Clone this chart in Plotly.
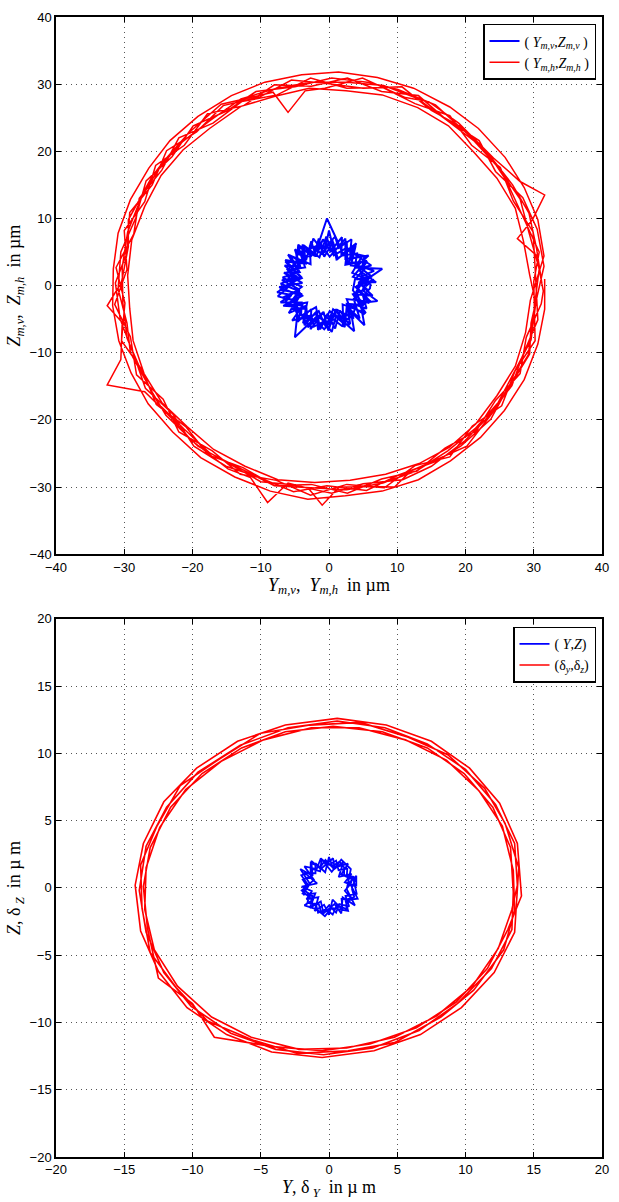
import plotly.graph_objects as go
from plotly.subplots import make_subplots

# ---------------- data ----------------
# Top panel: (Y_m,v , Z_m,v) blue orbit in µm
top_blue_y = [6.1, 3.5, 5.5, 2.4, 2.7, 0.7, -0.4, -1.4, -3.7, -3.4, -6.4, -4.1, -7.1, -4.4, -6.0, -3.2, -3.8, -1.5, -0.4, 0.6, 3.1, 2.6, 5.1, 3.5,
              3.8, 5.4, 3.2, 3.9, 1.1, 0.5, -1.0, -2.8, -2.7, -6.0, -4.4, -6.8, -4.0, -7.1, -4.0, -4.1, -1.9, -1.3, 0.1, 2.1, 2.0, 5.4, 3.5, 5.5,
              4.6, 7.8, 3.8, 4.1, 2.1, 1.3, -0.3, -1.8, -2.7, -4.8, -4.5, -6.3, -5.4, -7.5, -4.8, -4.6, -5.0, -1.7, -0.4, 0.8, 3.7, 3.1, 4.7, 4.0,
              5.3, 3.4, 4.8, 2.4, 2.4, 0.1, -1.2, -2.2, -4.5, -3.5, -5.6, -4.9, -7.2, -4.1, -5.4, -3.3, -3.1, -1.0, 0.3, 1.2, 3.6, 2.6, 6.1, 4.1,
              5.0, 6.6, 4.2, 5.8, 3.1, 4.0, 1.8, 1.9, 0.2, -0.9, -1.9, -2.6, -3.3, -5.0, -4.2, -6.5, -4.6, -6.9, -4.3, -6.8, -4.7, -5.9, -3.4,
              -3.6, -1.9, -1.6, -0.2, 0.9, 1.6, 3.0, 3.0, 5.2, 3.7, 6.4, 4.3,
              6.9, 4.5, 5.6, 2.9, 3.5, 1.3, 0.6, -0.7, -1.5, -2.2, -3.9, -3.6, -5.7, -4.3, -6.6, -3.9, -7.3, -4.5, -6.3, -3.9, -4.6, -2.6,
              -2.7, -0.8, -0.1, 1.0, 2.3, 2.6, 4.5, 3.6, 5.9, 3.9, 6.6,
              5.5, 4.4, 6.2, 3.6, 2.7, 2.6, 0.7, 0.0, -0.7, -2.3, -2.9, -4.5, -4.8, -6.1, -4.9, -7.6, -5.5, -6.4, -4.2, -5.4, -2.6, -2.2,
              -0.7, 0.4, 1.0, 2.9, 2.9, 5.2, 4.6, 7.1, 4.9, 6.0,
              4.0, 6.3, 4.8, 5.2, 3.1, 3.3, 1.4, 0.9, -0.5, -1.6, -3.0, -4.1, -3.8, -6.4, -4.0, -5.6, -3.9, -6.7, -5.1, -4.4, -2.9, -1.8,
              -0.7, 0.6, 2.0, 2.2, 3.5, 4.0, 5.5, 5.0, 6.0, 6.1]
top_blue_z = [0.3, 1.3, 3.7, 3.1, 5.7, 4.5, 7.3, 4.2, 6.0, 3.3, 3.8, 1.3, 0.3, -0.8, -3.0, -2.5, -5.6, -3.8, -6.3, -3.5, -5.7, -2.7, -2.9, -0.7,
              0.9, 2.7, 3.0, 5.9, 3.9, 6.8, 4.7, 6.0, 3.2, 4.6, 2.0, 1.2, -0.2, -2.5, -2.5, -4.5, -3.2, -6.5, -3.8, -5.6, -2.8, -4.1, -1.3, -0.5,
              0.3, 2.5, 2.7, 4.8, 4.5, 6.5, 10.0, 5.4, 4.3, 4.7, 2.6, 1.9, 0.3, -1.6, -2.3, -3.9, -7.7, -4.5, -5.6, -4.2, -6.8, -3.2, -2.7, -0.9,
              1.1, 1.9, 4.3, 4.0, 7.0, 4.3, 6.2, 4.7, 5.7, 2.7, 2.4, 0.9, -0.6, -1.2, -3.5, -3.4, -6.2, -4.1, -5.3, -3.6, -4.9, -2.0, -2.4, -0.3,
              1.5, 2.2, 3.0, 4.5, 4.0, 6.3, 4.6, 7.2, 5.1, 6.9, 4.3, 6.6, 4.0, 5.4, 2.8, 3.0, 1.2, 0.8, -0.6, -1.8, -2.2, -4.1, -3.0,
              -5.9, -3.9, -6.6, -4.2, -6.4, -3.7, -5.9, -2.9, -4.3, -1.3, -1.5, 0.5,
              0.5, 2.2, 3.6, 3.4, 5.9, 4.0, 6.5, 4.3, 7.0, 4.5, 6.1, 3.2, 4.5, 2.0, 1.9, 0.4, -0.2, -1.4, -3.0, -2.9, -5.4, -3.5,
              -6.5, -3.9, -6.7, -3.5, -6.2, -3.1, -4.9, -1.9, -2.6, -0.2, 0.9,
              0.0, 2.6, 3.0, 4.8, 3.1, 6.6, 5.2, 8.2, 4.9, 7.0, 4.7, 6.1, 3.4, 2.4, 0.8, -1.0, -1.4, -2.4, -3.5, -5.2, -4.4, -6.1,
              -5.3, -6.9, -4.6, -5.0, -3.6, -5.9, -2.6, -2.3, -0.7, 1.4,
              0.9, 1.3, 2.5, 4.4, 4.9, 6.9, 5.6, 7.3, 5.8, 6.0, 5.4, 5.1, 3.3, 3.6, 1.1, 0.4, -1.5, -3.0, -3.1, -5.0, -4.7, -5.4,
              -6.5, -5.0, -6.1, -4.3, -4.3, -2.9, -3.4, -1.6, -0.4, 0.3]

# Top panel: (Y_m,h , Z_m,h) red orbit in µm
top_red_y = [31.2, 30.4, 29.3, 26.9, 23.0, 19.9, 15.6, 10.1, 5.6, 0.4, -5.0, -10.7, -15.0, -19.9, -23.0, -26.8, -28.3, -30.5,
             -30.9, -29.6, -29.1, -26.0, -23.9, -19.2, -15.6, -10.0, -5.7, 0.4, 5.0, 10.8, 15.0, 19.9, 22.9, 26.8, 28.3, 30.6,
             30.2, 29.9, 27.0, 25.1, 20.9, 17.7, 12.6, 7.9, 2.6, -2.7, -7.6, -12.8, -17.0, -22.0, -24.5, -27.8, -28.6, -31.2,
             -29.9, -30.4, -27.3, -25.3, -21.0, -17.7, -12.6, -8.0, -2.6, 2.7, 7.7, 12.9, 17.0, 21.6, 24.4, 28.0, 28.9, 31.1,
             31.4, 30.4, 27.6, 29.8, 31.6, 28.0, 24.1, 19.0, 14.6, 11.2, 4.9, -0.6, -3.5, -6.0, -8.2, -15.8, -20.5, -24.0, -25.9, -29.4,
             -29.4, -30.4, -32.5, -30.3, -30.5, -32.5, -27.0, -22.8, -20.2, -14.8, -11.5, -9.0, -6.0, -3.0, -1.0, 1.5, 5.8, 9.6, 12.0,
             20.2, 23.9, 25.9, 29.4, 29.6,
             31.5, 30.5, 28.4, 24.4, 22.0, 17.1, 13.1, 7.7, 2.7, -2.6, -8.0, -12.5, -17.8, -21.2, -25.4, -27.0, -30.0, -29.6,
             -31.4, -29.1, -28.2, -24.3, -22.0, -17.1, -13.0, -7.7, -2.7, 2.6, 8.1, 12.6, 17.7, 21.0, 25.3, 27.3, 30.2, 30.0,
             30.0, 30.8, 28.1, 26.0, 23.8, 19.2, 15.0, 10.7, 5.0, -0.3, -5.5, -10.1, -15.5, -19.4, -23.8, -25.9, -29.2, -29.6,
             -31.3, -30.6, -28.4, -26.9, -22.9, -19.8, -15.1, -10.6, -5.2, -0.3, 5.5, 10.2, 15.6, 19.3, 23.7, 26.1, 29.2, 29.8,
             30.8, 29.3, 28.0, 24.8, 21.3, 17.3, 12.9, 8.0, 2.6, -2.6, -7.9, -12.9, -17.4, -21.5, -24.9, -27.6, -29.5, -30.3,
             -30.2, -29.6, -27.4, -25.0, -21.2, -17.5, -12.8, -8.0, -2.7, 2.6, 7.9, 12.8, 17.4, 21.4, 24.8, 27.3, 29.6, 30.3,
             29.4, 28.5, 27.3, 24.6, 21.3, 17.5, 13.0, 7.8, 2.5, -2.9, -7.9, -12.9, -17.5, -21.4, -24.6, -27.0, -28.9, -29.5,
             -29.2, -28.7, -27.1, -24.5, -20.8, -16.9, -12.3, -7.5, -2.1, 3.1, 8.3, 13.2, 17.6, 21.5, 24.6, 27.3, 28.8, 29.5,
             31.5, 30.6, 28.6, 25.8, 21.9, 17.7, 12.4, 7.1, 1.4, -4.0, -9.4, -14.3, -19.2, -23.3, -26.4, -29.1, -30.9, -31.6,
             -31.7, -30.8, -29.0, -26.5, -22.9, -18.8, -13.8, -8.6, -3.1, 2.4, 7.8, 13.1, 17.8, 22.2, 25.7, 28.6, 30.6, 31.6, 31.6]
top_red_z = [0.3, 5.6, 10.8, 15.0, 20.1, 23.0, 26.9, 29.2, 30.3, 30.9, 29.6, 28.9, 26.0, 23.8, 19.2, 15.6, 10.1, 5.0,
             -0.5, -5.6, -10.0, -15.7, -19.3, -23.9, -26.0, -29.2, -29.6, -30.9, -29.5, -28.9, -26.9, -23.1, -20.0, -14.9, -10.6, -5.1,
             2.6, 8.0, 12.6, 17.6, 20.9, 25.3, 27.1, 29.5, 29.4, 30.9, 28.4, 27.4, 24.2, 22.0, 17.2, 13.0, 7.7, 2.7,
             -2.6, -8.2, -12.7, -17.7, -21.0, -25.2, -27.1, -29.8, -29.6, -30.9, -28.8, -27.6, -24.2, -21.6, -17.1, -13.1, -7.7, -2.7,
             -0.8, 4.5, 7.0, 9.8, 13.5, 15.5, 19.0, 24.2, 27.4, 28.0, 30.9, 29.4, 29.0, 25.8, 28.8, 27.0, 22.8, 18.8, 16.3, 9.8,
             5.8, 0.5, -3.0, -5.5, -11.0, -14.8, -15.8, -20.0, -23.0, -27.3, -28.6, -32.3, -29.4, -30.2, -32.7, -30.0, -29.9, -30.0, -27.6,
             -23.9, -19.0, -16.0, -10.2, -5.6,
             2.9, 8.4, 13.1, 17.0, 21.6, 24.8, 28.3, 28.9, 30.9, 29.7, 29.9, 26.8, 25.6, 20.9, 17.9, 12.5, 8.2, 2.4,
             -2.8, -7.6, -13.3, -16.9, -21.8, -24.6, -28.1, -29.0, -31.2, -29.6, -30.1, -26.8, -25.5, -20.9, -17.9, -12.6, -8.2, -2.5,
             0.6, 5.0, 10.9, 15.6, 19.0, 23.7, 26.1, 29.6, 29.4, 30.1, 30.6, 28.1, 26.8, 22.9, 20.1, 15.0, 10.9, 4.9,
             0.4, -5.0, -10.9, -15.3, -19.1, -23.9, -26.9, -28.4, -30.7, -29.8, -30.5, -28.2, -26.2, -23.9, -19.9, -15.4, -10.3, -5.3,
             2.5, 7.9, 12.9, 17.6, 21.5, 24.6, 27.9, 29.8, 30.3, 30.3, 29.3, 27.8, 24.6, 21.4, 17.5, 12.9, 8.0, 2.7,
             -2.6, -7.8, -13.0, -17.6, -21.4, -24.9, -27.3, -29.8, -30.1, -30.4, -29.4, -27.6, -24.6, -21.3, -17.4, -12.6, -8.1, -2.6,
             1.6, 6.6, 11.5, 16.0, 19.8, 23.8, 26.5, 28.4, 29.0, 29.4, 28.2, 26.7, 23.4, 20.2, 16.4, 11.8, 6.8, 1.5,
             -3.4, -8.2, -13.1, -17.4, -21.0, -24.4, -26.9, -28.9, -29.3, -29.0, -28.1, -26.5, -24.1, -20.6, -16.4, -12.0, -7.0, -2.2,
             4.4, 9.8, 14.6, 19.1, 23.4, 26.6, 29.4, 31.0, 31.8, 31.4, 30.3, 28.3, 25.2, 21.6, 17.5, 12.8, 7.8, 2.5,
             -3.0, -8.2, -13.0, -17.6, -21.8, -25.6, -28.5, -30.6, -31.8, -31.3, -30.6, -28.9, -26.1, -22.6, -18.6, -14.0, -8.7, -3.5, 1.0]

# Bottom panel: (Y,Z) blue and (delta_y, delta_z) red in µm
bot_blue_y = [2.0, 1.16, 1.65, 0.71, 1.05, 0.34, 0.0, -0.28, -1.0, -0.99, -1.82, -0.87, -2.0, -1.26, -1.65, -0.78, -1.05, -0.36, 0.0, 0.26, 1.0, 0.92, 1.73, 1.16,
              1.59, 1.76, 1.11, 1.10, 0.77, 0.20, -0.26, -0.61, -1.34, -1.35, -2.03, -1.59, -1.88, -1.39, -1.59, -0.97, -0.80, -0.22, 0.27, 0.57, 1.28, 1.27, 1.85, 1.69,
              1.7, 1.93, 1.3, 1.34, 0.7, 0.52, 0.0, -0.54, -0.65, -1.34, -1.3, -1.93, -1.6, -1.93, -1.21, -1.34, -0.75, -0.54, 0.0, 0.52, 0.75, 1.48, 1.21, 2.03,
              1.8, 0.9, 1.4, 0.4, 0.3, -0.6, -1.3, -1.2, -2.1, -1.4, -1.9, -1.0, -1.4, -0.6, -0.4, 0.4, 0.9, 1.0, 1.9, 1.3,
              1.6, 0.9, 0.2, -0.6, -0.9, -1.8, -1.1, -2.0, -1.2, -1.8, -0.9, -0.3, 0.2, 1.4, 1.2, 2.1, 1.5, 2.0, 2.0]
bot_blue_z = [0.1, 0.41, 1.05, 0.81, 1.92, 1.36, 2.3, 1.16, 1.83, 1.09, 1.15, 0.33, 0.1, -0.24, -0.85, -0.68, -1.72, -1.25, -2.0, -0.87, -1.63, -0.82, -0.9, -0.21,
              0.31, 0.83, 0.95, 1.53, 1.95, 1.59, 2.08, 1.58, 1.84, 1.14, 0.94, 0.31, -0.15, -0.47, -1.12, -1.17, -1.84, -1.59, -1.98, -1.29, -1.57, -0.87, -0.67, -0.12,
              0.1, 0.62, 0.85, 1.44, 1.31, 2.03, 1.7, 2.13, 1.23, 1.44, 0.85, 0.62, 0.1, -0.42, -0.6, -1.24, -1.2, -1.93, -1.3, -1.83, -1.2, -1.38, -0.6, -0.44,
              0.6, 1.0, 1.8, 1.5, 2.2, 1.4, 2.0, 0.9, 1.4, 0.3, -0.5, -0.4, -1.5, -1.0, -1.9, -1.2, -1.9, -0.7, -1.3, -0.1,
              1.4, 2.1, 1.2, 2.2, 1.4, 1.6, 0.6, -0.2, -0.9, -1.3, -1.6, -2.1, -1.5, -1.7, -0.9, -0.8, 0.4, 0.9, 0.1]

bot_red_y = [13.8, 13.6, 12.2, 10.0, 7.2, 4.1, 0.6, -3.0, -6.5, -9.6, -11.9, -13.4, -13.9, -13.4, -12.1, -10.1, -7.2, -3.9, -0.4, 3.2, 6.6, 9.4, 11.9, 13.4,
             13.5, 13.3, 12.0, 9.9, 7.2, 3.9, 0.3, -3.2, -6.4, -9.3, -11.6, -13.1, -13.6, -13.3, -12.5, -10.0, -8.4, -4.1, -0.5, 3.0, 6.4, 9.3, 11.6, 13.1,
             14.1, 13.8, 12.5, 10.3, 7.5, 4.2, 0.6, -3.2, -6.7, -9.7, -12.1, -13.6, -14.2, -13.8, -12.5, -10.4, -7.5, -4.2, -0.5, 3.3, 6.7, 9.7, 12.1, 13.6,
             13.9, 12.9, 11.4, 8.7, 5.8, 2.3, -1.4, -5.0, -8.0, -10.9, -12.6, -13.8, -13.7, -13.1, -11.2, -8.9, -5.6, -2.3, 1.4, 4.8, 8.2, 10.6, 12.8, 13.6,
             13.5, 12.7, 11.0, 8.6, 5.6, 2.2, -1.3, -4.8, -7.9, -10.5, -12.4, -13.4, -13.5, -12.8, -11.1, -8.6, -5.7, -2.2, 1.3, 4.8, 7.9, 10.5, 12.4, 13.4, 13.8]
bot_red_z = [0.2, 3.3, 6.2, 8.8, 10.7, 11.9, 12.4, 11.9, 10.6, 8.6, 6.0, 3.1, -0.2, -3.3, -6.3, -8.8, -10.8, -12.0, -12.4, -11.9, -10.6, -8.6, -6.0, -3.1,
             -0.3, 3.0, 6.0, 8.5, 10.4, 11.6, 12.0, 11.6, 10.4, 8.5, 6.0, 3.0, 0.1, -3.0, -6.7, -8.6, -11.1, -11.8, -12.1, -11.6, -10.4, -8.5, -6.0, -3.1,
             -0.6, 3.3, 6.3, 8.9, 10.9, 12.1, 12.6, 12.1, 10.9, 8.9, 6.4, 3.3, 0.2, -3.2, -6.2, -8.9, -10.9, -12.2, -12.6, -12.1, -10.9, -8.9, -6.3, -3.3,
             1.5, 4.8, 7.4, 9.9, 11.2, 12.3, 12.1, 11.5, 9.6, 7.6, 4.6, 1.7, -1.5, -4.8, -7.4, -9.9, -11.3, -12.3, -12.1, -11.5, -9.6, -7.6, -4.6, -1.7,
             1.3, 4.6, 7.2, 9.5, 11.0, 11.9, 11.9, 11.0, 9.4, 7.3, 4.5, 1.5, -1.6, -4.6, -7.3, -9.6, -11.1, -12.0, -11.9, -11.1, -9.5, -7.3, -4.5, -1.6, 0.2]

top_ticks = [-40, -30, -20, -10, 0, 10, 20, 30, 40]
bot_ticks = [-20, -15, -10, -5, 0, 5, 10, 15, 20]

# ---------------- figure ----------------
W, H = 619, 1202
ML, MR, MT, MB = 56, 17, 10, 44
ph = H - MT - MB

def py(px):  # pixel y -> paper y
    return 1 - (px - MT) / ph

def pxx(px):  # pixel x -> paper x
    return (px - ML) / (W - ML - MR)

fig = make_subplots(rows=2, cols=1)

BLUE = "#0000ff"
RED = "#ff0000"
serif = "Liberation Serif, Times New Roman, serif"
sans = "Liberation Sans Narrow, Liberation Sans, Arial, sans-serif"

fig.add_trace(go.Scatter(x=top_blue_y, y=top_blue_z, mode="lines", line=dict(color=BLUE, width=2.0),
                         name="( <i>Y</i><sub><i>m,v</i></sub>,<i>Z</i><sub><i>m,v</i></sub> )", legend="legend"), row=1, col=1)
fig.add_trace(go.Scatter(x=top_red_y, y=top_red_z, mode="lines", line=dict(color=RED, width=1.5),
                         name="( <i>Y</i><sub><i>m,h</i></sub>,<i>Z</i><sub><i>m,h</i></sub> )", legend="legend"), row=1, col=1)
fig.add_trace(go.Scatter(x=bot_blue_y, y=bot_blue_z, mode="lines", line=dict(color=BLUE, width=1.8),
                         name="( <i>Y</i>,<i>Z</i>)", legend="legend2"), row=2, col=1)
fig.add_trace(go.Scatter(x=bot_red_y, y=bot_red_z, mode="lines", line=dict(color=RED, width=1.6),
                         name="(δ<sub><i>y</i></sub>,δ<sub><i>z</i></sub>)", legend="legend2"), row=2, col=1)

axis_common = dict(showline=True, linecolor="black", linewidth=1.5, mirror="ticks", ticks="inside", ticklen=5,
                   tickcolor="black", showgrid=True, gridcolor="#555555", griddash="1px,4px", gridwidth=1,
                   zeroline=False, tickfont=dict(family=sans, size=13, color="black"))

fig.update_xaxes(axis_common)
fig.update_yaxes(axis_common)

fig.update_xaxes(range=[-40, 40], tickvals=top_ticks, domain=[0, 1], row=1, col=1)
fig.update_yaxes(range=[-40, 40], tickvals=top_ticks, domain=[py(551), py(10)], row=1, col=1)
fig.update_xaxes(range=[-20, 20], tickvals=bot_ticks, domain=[0, 1], row=2, col=1)
fig.update_yaxes(range=[-20, 20], tickvals=bot_ticks, domain=[py(1158), py(616)], row=2, col=1)

fig.update_xaxes(title=dict(text="<i>Y</i><sub><i>m,v</i></sub>,  <i>Y</i><sub><i>m,h</i></sub>  in µm",
                            font=dict(family=serif, size=18, color="black"), standoff=2), row=1, col=1)
fig.update_yaxes(title=dict(text="<i>Z</i><sub><i>m,v</i></sub>,  <i>Z</i><sub><i>m,h</i></sub>  in µm",
                            font=dict(family=serif, size=18, color="black"), standoff=4), row=1, col=1)
fig.update_xaxes(title=dict(text="<i>Y</i>, δ<sub> <i>Y</i></sub>  in µ m",
                            font=dict(family=serif, size=18, color="black"), standoff=2), row=2, col=1)
fig.update_yaxes(title=dict(text="<i>Z</i>, δ<sub> <i>Z</i></sub>  in µ m",
                            font=dict(family=serif, size=18, color="black"), standoff=4), row=2, col=1)

legend_common = dict(bgcolor="white", bordercolor="black", borderwidth=1.5,
                     font=dict(family=serif, size=14, color="black"),
                     xanchor="right", yanchor="top", itemwidth=30, tracegroupgap=0)
fig.update_layout(
    width=W, height=H,
    margin=dict(l=ML, r=MR, t=MT, b=MB),
    paper_bgcolor="white", plot_bgcolor="white",
    showlegend=True,
    legend=dict(legend_common, x=pxx(596), y=py(17)),
    legend2=dict(legend_common, x=pxx(596), y=py(624)),
)

fig.write_html("out.html", config={"displayModeBar": False})

# remove the default page margin so the figure sits at the window's top-left corner
with open("out.html", "r", encoding="utf-8") as f:
    html = f.read()
html = html.replace("<body>", '<body style="margin:0;padding:0;">', 1)
with open("out.html", "w", encoding="utf-8") as f:
    f.write(html)
